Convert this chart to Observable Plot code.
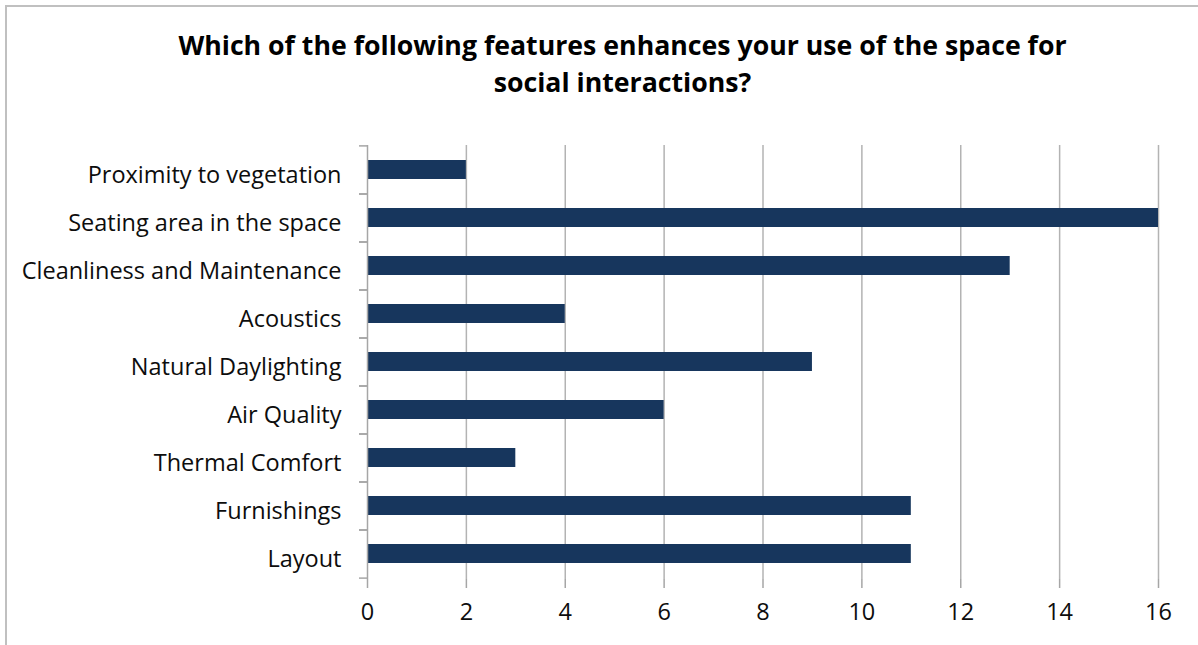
<!DOCTYPE html>
<html>
<head>
<meta charset="utf-8">
<script src="https://cdn.jsdelivr.net/npm/d3@7"></script>
<script src="https://cdn.jsdelivr.net/npm/@observablehq/plot@0.6"></script>
<style>
  html, body { margin: 0; padding: 0; background: #fff; overflow: hidden; }
  body { width: 1198px; height: 645px; position: relative; font-family: "Open Sans", sans-serif; }
  #frame { position: absolute; left: 5px; top: 5px; width: 1250px; height: 700px; border: 2px solid #c0c0c0; box-sizing: border-box; }
  #title { position: absolute; left: 0; top: 26px; width: 1245px; text-align: center; font-weight: bold; font-size: 26.7px; line-height: 37px; color: #000; }
  #chart { position: absolute; left: 0; top: 120px; }
</style>
</head>
<body>
<div id="frame"></div>
<div id="title">Which of the following features enhances your use of the space for<br>social interactions?</div>
<div id="chart"></div>
<script>
const categories = [
  "Proximity to vegetation",
  "Seating area in the space",
  "Cleanliness and Maintenance",
  "Acoustics",
  "Natural Daylighting",
  "Air Quality",
  "Thermal Comfort",
  "Furnishings",
  "Layout"
];
const values = [2, 16, 13, 4, 9, 6, 3, 11, 11];
const xTicks = [0, 2, 4, 6, 8, 10, 12, 14, 16];

const data = categories.map((c, i) => ({category: c, value: values[i]}));

const marginTop = 25, marginBottom = 66, height = 525;
const step = (height - marginTop - marginBottom) / categories.length;

const chart = Plot.plot({
  width: 1198,
  height: height,
  marginLeft: 367,
  marginRight: 40,
  marginTop: marginTop,
  marginBottom: marginBottom,
  style: {fontFamily: "'Open Sans', sans-serif", fontSize: "23.5px", color: "#000", background: "transparent"},
  x: {domain: [0, 16]},
  y: {domain: categories, paddingInner: 0.6, paddingOuter: 0.3},
  marks: [
    Plot.gridX(xTicks.filter(d => d > 0), {stroke: "#b3b3b3", strokeOpacity: 1, strokeWidth: 1.5}),
    Plot.barX(data, {x: "value", y: "category", fill: "#17365D"}),
    Plot.ruleX([0], {stroke: "#a6a6a6", strokeWidth: 1.5}),
    Plot.ruleY([0], {frameAnchor: "bottom", stroke: "#a6a6a6", strokeWidth: 1.5}),
    Plot.axisX({ticks: xTicks, tickSize: 9, tickPadding: 15, stroke: "#a6a6a6", strokeWidth: 1.5, tickFormat: d => String(d), fill: "#0d0d0d", label: null}),
    Plot.axisY({tickSize: 0, tickPadding: 26, dy: 5, fill: "#0d0d0d", label: null}),
    Plot.axisY({text: null, tickSize: 8, dy: -step / 2, stroke: "#a6a6a6", strokeWidth: 1.5, label: null}),
    Plot.axisY({text: null, tickSize: 8, dy: step / 2, stroke: "#a6a6a6", strokeWidth: 1.5, label: null})
  ]
});
document.getElementById("chart").appendChild(chart);
</script>
</body>
</html>
